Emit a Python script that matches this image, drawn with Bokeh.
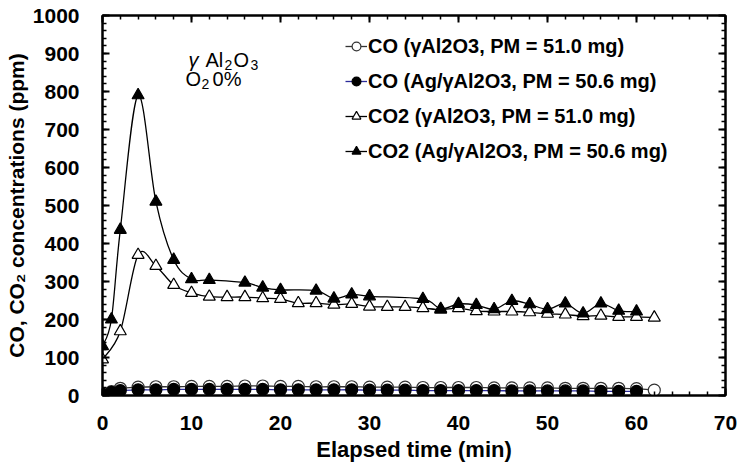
from bokeh.plotting import figure
from bokeh.models import (SingleIntervalTicker, LinearAxis, Legend, LegendItem,
                          Range1d, Label, CustomJSTickFormatter, ColumnDataSource)
from bokeh.embed import file_html
from bokeh.resources import INLINE

# ---------------- data ----------------
t_co_g = [0, 1, 2, 4, 6, 8, 10, 12, 14, 16, 18, 20, 22, 24, 26, 28, 30, 32, 34, 36,
          38, 40, 42, 44, 46, 48, 50, 52, 54, 56, 58, 60, 62]
co_g = [4, 10, 19, 22, 23, 23, 24, 24, 24, 25, 25, 24, 24, 23, 23, 23, 22, 22, 22, 21,
        21, 21, 21, 20, 20, 20, 20, 19, 19, 19, 19, 18, 14]

t_co_ag = [0, 1, 2, 4, 6, 8, 10, 12, 14, 16, 18, 20, 22, 24, 26, 28, 30, 32, 34, 36,
           38, 40, 42, 44, 46, 48, 50, 52, 54, 56, 58, 60]
co_ag = [3, 8, 13, 15, 15, 16, 16, 16, 16, 16, 16, 15, 15, 15, 15, 15, 14, 14, 14, 13,
         13, 13, 13, 13, 12, 12, 12, 12, 12, 11, 11, 11]

t_co2_g = [0, 2, 4, 6, 8, 10, 12, 14, 16, 18, 20, 22, 24, 26, 28, 30, 32, 34, 36, 38,
           40, 42, 44, 46, 48, 50, 52, 54, 56, 58, 60, 62]
co2_g = [95, 169, 370, 341, 291, 270, 260, 259, 259, 256, 254, 243, 243, 239, 241, 234,
         233, 233, 230, 226, 230, 222, 221, 221, 219, 215, 213, 209, 210, 207, 207, 205]

t_co2_ag = [0, 1, 2, 4, 6, 8, 10, 12, 16, 18, 20, 24, 26, 28, 30, 36, 38, 40, 42, 44,
            46, 48, 50, 52, 54, 56, 58, 60]
co2_ag = [130, 200, 436, 790, 510, 357, 306, 304, 297, 284, 278, 276, 255, 266, 261,
          254, 228, 241, 238, 227, 249, 240, 227, 242, 216, 242, 223, 221]

labels = ["CO (\u03b3Al2O3, PM = 51.0 mg)",
          "CO (Ag/\u03b3Al2O3, PM = 50.6 mg)",
          "CO2 (\u03b3Al2O3, PM = 51.0 mg)",
          "CO2 (Ag/\u03b3Al2O3, PM = 50.6 mg)"]

FONT = "Liberation Sans"


def smooth_segments(x, y):
    """Cubic Bezier control points (Catmull-Rom style, like a spreadsheet's smoothed line)."""
    n = len(x)
    d = dict(x0=[], y0=[], x1=[], y1=[], cx0=[], cy0=[], cx1=[], cy1=[])
    for i in range(n - 1):
        a = i - 1 if i > 0 else i
        b = i + 2 if i + 2 < n else i + 1
        d["x0"].append(x[i]); d["y0"].append(y[i])
        d["x1"].append(x[i + 1]); d["y1"].append(y[i + 1])
        d["cx0"].append(x[i] + (x[i + 1] - x[a]) / 6.0)
        d["cy0"].append(y[i] + (y[i + 1] - y[a]) / 6.0)
        d["cx1"].append(x[i + 1] - (x[b] - x[i]) / 6.0)
        d["cy1"].append(y[i + 1] - (y[b] - y[i]) / 6.0)
    return ColumnDataSource(d)


p = figure(width=739, height=464, output_backend="svg", toolbar_location=None,
           x_range=Range1d(0, 70), y_range=Range1d(0, 1000),
           min_border_left=102, min_border_right=14, min_border_top=15,
           min_border_bottom=68)
p.xgrid.visible = False
p.ygrid.visible = False
p.outline_line_color = "black"
p.outline_line_width = 2
p.background_fill_color = "white"
p.border_fill_color = "white"

series = [
    (t_co_g, co_g, "circle", "white", "#333333", "#333333", 12),
    (t_co_ag, co_ag, "circle", "black", "black", "#2b2b9a", 12),
    (t_co2_g, co2_g, "triangle", "white", "black", "black", 12),
    (t_co2_ag, co2_ag, "triangle", "black", "black", "black", 12),
]

items = []
for (tx, vy, mk, fill, mline, lcol, sz), lab in zip(series, labels):
    src = smooth_segments(tx, vy)
    r1 = p.bezier(x0="x0", y0="y0", x1="x1", y1="y1", cx0="cx0", cy0="cy0",
                  cx1="cx1", cy1="cy1", source=src, line_color=lcol, line_width=1.3)
    r2 = p.scatter(tx, vy, marker=mk, size=sz, fill_color=fill, line_color=mline,
                   line_width=1.2)
    items.append(LegendItem(label=lab, renderers=[r1, r2]))

legend = Legend(items=items, location=(243, 232), padding=0, margin=0,
                border_line_color=None, background_fill_alpha=0,
                glyph_width=22, glyph_height=24, label_height=24, spacing=11,
                label_standoff=1,
                label_text_font=FONT, label_text_font_style="bold",
                label_text_font_size="20px", label_text_color="black")
p.add_layout(legend, "center")

# axes
def style_axis(ax, interval):
    ax.ticker = SingleIntervalTicker(interval=interval, num_minor_ticks=5)
    ax.axis_line_width = 2
    ax.axis_line_color = "black"
    ax.major_tick_in = 7
    ax.major_tick_out = 0
    ax.minor_tick_in = 4
    ax.minor_tick_out = 0
    ax.major_tick_line_width = 2
    ax.minor_tick_line_width = 1.5
    ax.major_tick_line_color = "black"
    ax.minor_tick_line_color = "black"
    ax.major_label_text_font = FONT
    ax.major_label_text_font_style = "bold"
    ax.major_label_text_font_size = "21px"
    ax.major_label_text_color = "black"
    ax.axis_label_text_font = FONT
    ax.axis_label_text_font_style = "bold"
    ax.axis_label_text_color = "black"

xa = p.xaxis[0]
style_axis(xa, 10)
xa.major_label_standoff = 20
xa.axis_label = "Elapsed time (min)"
xa.axis_label_text_font_size = "22px"
xa.axis_label_standoff = 4

ya = p.yaxis[0]
style_axis(ya, 100)
ya.major_label_standoff = 23
ya.axis_label = "CO, CO\u2082 concentrations (ppm)"
ya.axis_label_text_font_size = "21px"
ya.axis_label_standoff = 2

blank = CustomJSTickFormatter(code="return ''")
top = LinearAxis(formatter=blank, major_label_standoff=0)
style_axis(top, 10)
p.add_layout(top, "above")
right = LinearAxis(formatter=blank, major_label_standoff=0)
style_axis(right, 100)
p.add_layout(right, "right")

# annotation text (γ Al2O3 / O2 0%)
ann = [
    ("\u03b3", 9.66, 882, "20px", "italic"),
    ("Al", 11.57, 882, "20px", "normal"),
    ("2", 13.71, 869, "14px", "normal"),
    ("O", 14.72, 882, "20px", "normal"),
    ("3", 16.63, 869, "14px", "normal"),
    ("O", 9.33, 832, "20px", "normal"),
    ("2", 11.12, 819, "14px", "normal"),
    ("0%", 12.36, 832, "20px", "normal"),
]
for txt, ax_, ay_, fs, st in ann:
    p.add_layout(Label(x=ax_, y=ay_, text=txt, text_font=FONT, text_font_size=fs,
                       text_font_style=st, text_baseline="alphabetic",
                       text_color="black"))

open("out.html", "w").write(file_html(p, INLINE))
